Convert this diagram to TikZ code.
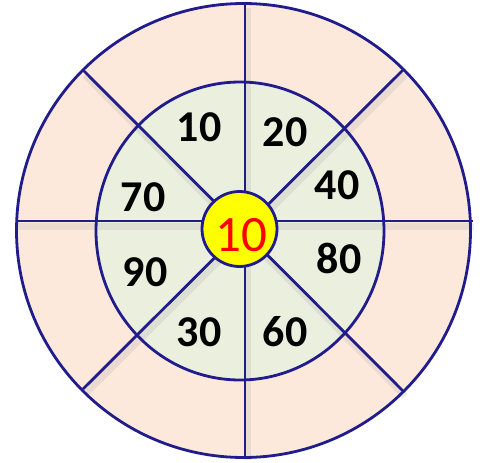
\documentclass[tikz,border=0pt]{standalone}
\usepackage{fontspec}
\setmainfont{Carlito}
\usepackage{xcolor}
\definecolor{ringline}{RGB}{32,28,140}
\definecolor{outerpink}{RGB}{253,233,219}
\definecolor{innergreen}{RGB}{235,239,222}
\definecolor{bullyellow}{RGB}{255,255,0}
\begin{document}
\begin{tikzpicture}[x=1pt,y=-1pt,
  spoke/.style={ringline,line width=2.8pt},
  spokeshadow/.style={black!40,line width=7pt,opacity=0.18},
  score/.style={font=\fontsize{44}{44}\selectfont\bfseries}]
\useasboundingbox (0,0) rectangle (482,463);
\fill[outerpink] (243.5,230.5) circle (227);
\fill[innergreen] (240,231) ellipse (144 and 149);
% shadows of the spokes
\draw[spokeshadow] (247,8)--(247,460);\draw[spokeshadow] (18,226)--(474,226);
\draw[spokeshadow] (85,75)--(405,396);\draw[spokeshadow] (405,75)--(85,394);
\draw[spoke] (245,4)--(245,457);\draw[spoke] (16,221)--(473,221);
\draw[spoke] (83,70)--(403,391);\draw[spoke] (403,70)--(83,389);
\draw[spoke] (243.5,230.5) circle (227);
\draw[spoke] (240,231) ellipse (144 and 149);
\filldraw[spoke,fill=bullyellow] (239.5,229) circle (37.5);
\node[text=red,font=\fontsize{51}{51}\selectfont] (bull) at (241,235) {10};
\node[score] (s10) at (199,127) {10};
\node[score] (s20) at (285,132) {20};
\node[score] (s40) at (337,185) {40};
\node[score] (s70) at (143,197) {70};
\node[score] (s80) at (339,258) {80};
\node[score] (s90) at (145,272) {90};
\node[score] (s30) at (199,332) {30};
\node[score] (s60) at (285,332) {60};
\end{tikzpicture}
\end{document}
